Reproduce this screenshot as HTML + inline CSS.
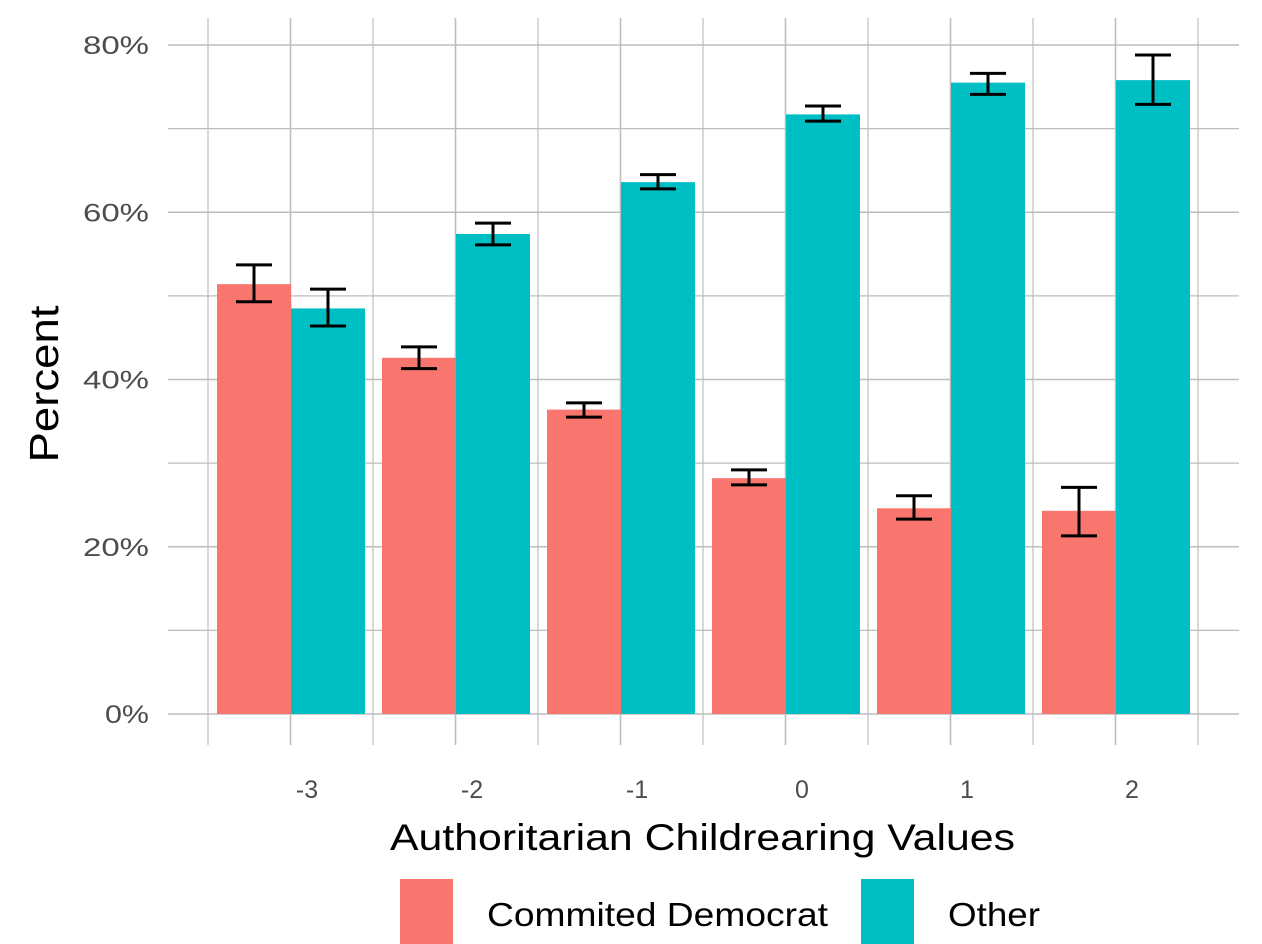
<!DOCTYPE html>
<html><head><meta charset="utf-8"><style>
body{margin:0;background:#fff;}
svg{display:block;font-family:"Liberation Sans",sans-serif;}
</style></head><body>
<svg id="chart" width="1262" height="944" xmlns="http://www.w3.org/2000/svg">
<g id="grid"></g><g id="bars"></g><g id="errs"></g><g id="labels"></g>
<text x="390" y="850" font-size="37" textLength="625" lengthAdjust="spacingAndGlyphs" fill="#000">Authoritarian Childrearing Values</text>
<text transform="translate(58,384) rotate(-90)" text-anchor="middle" font-size="41" textLength="157" lengthAdjust="spacingAndGlyphs" fill="#000">Percent</text>
<g>
<rect x="400" y="879" width="53" height="65" fill="#F8766D"/>
<text x="487" y="926" font-size="33" textLength="341" lengthAdjust="spacingAndGlyphs" fill="#000">Commited Democrat</text>
<rect x="861" y="879" width="53" height="65" fill="#00BFC4"/>
<text x="948" y="926" font-size="33" textLength="92" lengthAdjust="spacingAndGlyphs" fill="#000">Other</text>
</g>
</svg>
<script>
const categories=["-3","-2","-1","0","1","2"];
const demVals=[51.4,42.6,36.4,28.2,24.6,24.3];
const demLo=[49.3,41.3,35.5,27.4,23.3,21.3];
const demHi=[53.7,43.9,37.2,29.2,26.1,27.1];
const othVals=[48.5,57.4,63.6,71.7,75.5,75.8];
const othLo=[46.4,56.1,62.8,70.9,74.1,72.9];
const othHi=[50.8,58.7,64.5,72.7,76.6,78.8];
const yTicks=[0,20,40,60,80];
const NS="http://www.w3.org/2000/svg";
const y=v=>714-v*(669/80);
const xc=i=>291+i*165;
const bw=74;
function mk(tag,attrs,parent){const e=document.createElementNS(NS,tag);for(const k in attrs)e.setAttribute(k,attrs[k]);document.getElementById(parent).appendChild(e);return e;}
for(let v=0;v<=80;v+=10){
 const l=mk('line',{x1:168,x2:1239,y1:y(v),y2:y(v),stroke:'#bdbdbd','stroke-width':v%20?1.2:1.6},'grid');
 
 
}
for(let k=0;k<13;k++){
 const gx=208+k*82.5;
 const l=mk('line',{x1:gx,x2:gx,y1:18,y2:745,stroke:'#bdbdbd','stroke-width':k%2?1.6:1.2},'grid');
 
 
}
yTicks.forEach(t=>{
 const s=t+'%';
 const tx=mk('text',{x:149,y:y(t)+9,'text-anchor':'end','font-size':25,fill:'#4d4d4d',textLength:s.length*22,lengthAdjust:'spacingAndGlyphs'},'labels');
 tx.textContent=s;
 
 
});
categories.forEach((c,i)=>{
 const cx=xc(i);
 const r1=mk('rect',{x:cx-bw,y:y(demVals[i]),width:bw,height:714-y(demVals[i]),fill:'#F8766D'},'bars');
 
 
 const r2=mk('rect',{x:cx,y:y(othVals[i]),width:bw,height:714-y(othVals[i]),fill:'#00BFC4'},'bars');
 
 
 [[cx-bw/2,demLo[i],demHi[i],'democrat'],[cx+bw/2,othLo[i],othHi[i],'other']].forEach(([ex,lo,hi,s])=>{
  const p=mk('path',{d:`M${ex-18},${y(hi)}H${ex+18}M${ex},${y(hi)}V${y(lo)}M${ex-18},${y(lo)}H${ex+18}`,stroke:'#000','stroke-width':3,fill:'none'},'errs');
  
  
 });
 const tx=mk('text',{x:cx+16,y:798,'text-anchor':'middle','font-size':25,fill:'#4d4d4d'},'labels');
 tx.textContent=c;
 
 
});
</script>
</body></html>
